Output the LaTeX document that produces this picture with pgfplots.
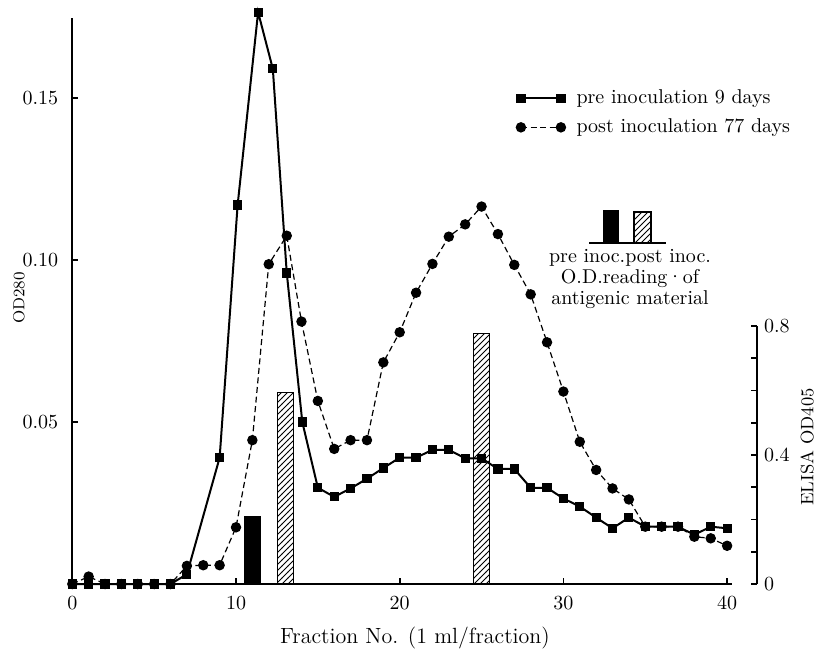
\documentclass[border=0pt]{standalone}
\usepackage{pgfplots}
\pgfplotsset{compat=1.18}
\usetikzlibrary{patterns}
\pgfplotsset{twomark/.style={legend image code/.code={\draw[##1] plot coordinates {(0pt,0pt) (20pt,0pt)};}}}
\begin{document}
\begin{tikzpicture}
\path[use as bounding box] (0pt,0pt) rectangle (411pt,325pt);
% ELISA axis (bars)
\begin{axis}[
  at={(36.15pt,33pt)}, anchor=south west,
  x=8.185pt, y=161.25pt,
  xmin=0, xmax=41.83, ymin=0, ymax=0.8,
  axis x line=none, axis y line*=right,
  tick align=inside,
  ytick={0,0.4,0.8}, yticklabels={0,0.4,0.8},
  minor ytick={0.1,0.2,0.3,0.5,0.6,0.7},
  major tick length=3pt, minor tick length=3pt,
  axis line style={line width=0.9pt},
  every tick/.style={line width=0.8pt, black},
  clip=false,
]
\addplot[ybar, bar width=8pt, fill=black, draw=black] coordinates {(11,0.21)};
\addplot[ybar, bar width=8pt, draw=black, pattern=north east lines] coordinates {(13,0.593) (25,0.777)};
\end{axis}
% OD280 axis
\begin{axis}[
  at={(36.15pt,33pt)}, anchor=south west,
  x=8.185pt, y=1620pt,
  xmin=0, xmax=40.3, ymin=0, ymax=0.1747,
  axis x line*=bottom, axis y line*=left,
  tick align=inside,
  major tick length=3pt,
  xtick={0,10,20,30,40},
  ytick={0.05,0.10,0.15}, yticklabels={0.05,0.10,0.15},
  scaled y ticks=false,
  xticklabel style={yshift=-3pt},
  yticklabel style={xshift=-3.5pt},
  axis line style={line width=0.9pt},
  every tick/.style={line width=0.8pt, black},
  clip=false,
  legend cell align=left,
  legend style={draw=none, fill=none, at={(axis cs:27.1,0.1454)}, anchor=west,
    inner sep=0pt, row sep=3pt, nodes={inner sep=1.5pt},
    /tikz/every odd column/.append style={column sep=4pt}},
]
\addplot[black, line width=1pt, mark=square*, mark size=1.8pt, mark options={solid}, twomark]
coordinates {
(0,0) (1,0) (2,0) (3,0) (4,0) (5,0) (6,0) (7,0.003) (9,0.039) (10.1,0.117)
(11.35,0.1765) (12.25,0.159) (13.1,0.096) (14.05,0.050) (15,0.0297) (16,0.0269)
(17,0.0295) (18,0.0325) (19,0.0358) (20,0.039) (21,0.039) (22,0.0414) (23,0.0414)
(24,0.0388) (25,0.0388) (26,0.0355) (27,0.0355) (28,0.0297) (29,0.0297) (30,0.0264)
(31,0.0239) (32,0.0205) (33,0.0172) (34,0.0205) (35,0.0177) (36,0.0177) (37,0.0177)
(38,0.0152) (39,0.0177) (40,0.0172)
};
\addlegendentry{pre inoculation 9 days}
\addplot[black, line width=0.6pt, dash pattern=on 3pt off 1.8pt, mark=*, mark size=2.3pt, mark options={solid}, twomark]
coordinates {
(0,0) (1,0.0023) (2,0) (3,0) (4,0) (5,0) (6,0) (7,0.0056) (8,0.0058) (9,0.0058)
(10,0.0175) (11,0.0444) (12,0.0987) (13.1,0.1075) (14,0.081) (15,0.0565) (16,0.0417)
(17,0.0444) (18,0.0444) (19,0.0684) (20,0.0777) (21,0.0899) (22,0.0988) (23,0.1072)
(24,0.111) (25,0.1165) (26,0.108) (27,0.0985) (28,0.0894) (29,0.0746) (30,0.0594)
(31,0.0439) (32,0.0352) (33,0.0295) (34,0.0261) (35,0.0177) (36,0.0177) (37,0.0177)
(38,0.0146) (39,0.0141) (40,0.0118)
};
\addlegendentry{post inoculation 77 days}
\end{axis}
% bar key
\fill[black] (301.5pt,203.5pt) rectangle (309.5pt,220pt);
\draw[black, line width=0.6pt, pattern=north east lines] (317pt,203.5pt) rectangle (325.5pt,219pt);
\draw[black, line width=1pt] (294.5pt,203.3pt) -- (333pt,203.3pt);
\node[align=center, font=\fontsize{10}{10.5}\selectfont] at (315pt,185.5pt)
  {pre inoc.post inoc.\\O.D.reading{\textperiodcentered}of\\antigenic material};
% axis titles
\node[rotate=90, font=\fontsize{8}{9}\selectfont] at (9.5pt,176pt) {OD280};
\node[rotate=90, font=\fontsize{9}{10}\selectfont] at (403.5pt,101.5pt) {ELISA OD405};
\node[font=\fontsize{11}{13}\selectfont] at (207.5pt,6pt) {Fraction No. (1 ml/fraction)};
\end{tikzpicture}
\end{document}
